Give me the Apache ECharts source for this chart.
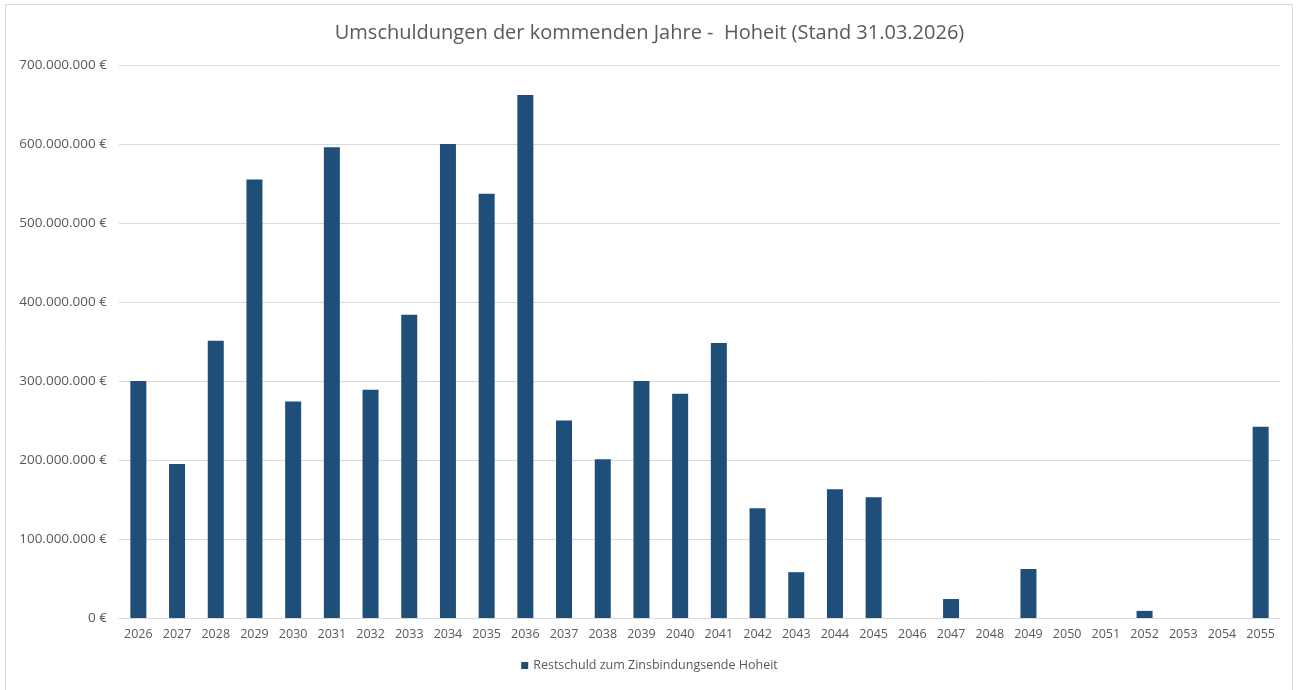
<!DOCTYPE html>
<html>
<head>
<meta charset="utf-8">
<script src="https://cdn.jsdelivr.net/npm/echarts@6/dist/echarts.min.js"></script>
<style>
  html, body { margin: 0; padding: 0; background: #fff; }
  #chart { width: 1299px; height: 690px; }
</style>
</head>
<body>
<div id="chart"></div>
<script>
// Jahre der Umschuldung
let years = [
  '2026', '2027', '2028', '2029', '2030', '2031', '2032', '2033', '2034', '2035',
  '2036', '2037', '2038', '2039', '2040', '2041', '2042', '2043', '2044', '2045',
  '2046', '2047', '2048', '2049', '2050', '2051', '2052', '2053', '2054', '2055',
];

// Restschuld in Euro
let restschuld = [
  300000000, 195000000, 351000000, 555000000, 274000000, 596000000, 289000000, 384000000, 600000000, 537000000,
  662000000, 250000000, 201000000, 300000000, 284000000, 348000000, 139000000, 58000000, 163000000, 153000000,
  0, 24000000, 0, 62000000, 0, 0, 9000000, 0, 0, 242000000,
];

let seriesName = 'Restschuld zum Zinsbindungsende Hoheit';
let title = 'Umschuldungen der kommenden Jahre -  Hoheit (Stand 31.03.2026)';

let fontFamily = '"Open Sans", "Noto Sans", sans-serif';

function euro(v) {
  let s = String(Math.round(v)).replace(/\B(?=(\d{3})+(?!\d))/g, '.');
  return s + ' €';
}

let chart = echarts.init(document.getElementById('chart'), null, { renderer: 'canvas' });

let options = {
  backgroundColor: '#ffffff',
  animation: false,
  textStyle: { fontFamily },
  title: {
    text: title,
    left: 'center',
    top: 18,
    textStyle: {
      fontFamily,
      fontSize: 20,
      fontWeight: 'normal',
      color: '#595959',
    },
  },
  graphic: [
    {
      type: 'rect',
      shape: { x: 5.5, y: 4.5, width: 1287, height: 700 },
      style: { fill: 'none', stroke: '#d9d9d9', lineWidth: 1 },
      silent: true,
    },
  ],
  legend: {
    bottom: 13,
    left: 'center',
    itemWidth: 7,
    itemHeight: 7,
    icon: 'rect',
    textStyle: { fontFamily, fontSize: 12.5, color: '#595959' },
    data: [seriesName],
  },
  grid: {
    left: 119,
    right: 19,
    top: 65,
    bottom: 72,
  },
  xAxis: {
    type: 'category',
    data: years,
    axisLine: { show: true, lineStyle: { color: '#d9d9d9' } },
    axisTick: { show: false },
    axisLabel: {
      fontFamily,
      fontSize: 12.5,
      color: '#595959',
      margin: 10,
      interval: 0,
    },
  },
  yAxis: {
    type: 'value',
    min: 0,
    max: 700000000,
    interval: 100000000,
    axisLine: { show: false },
    axisTick: { show: false },
    splitLine: { lineStyle: { color: '#d9d9d9', width: 1 } },
    axisLabel: {
      fontFamily,
      fontSize: 13.5,
      color: '#595959',
      margin: 12,
      formatter: euro,
    },
  },
  series: [
    {
      name: seriesName,
      type: 'bar',
      data: restschuld,
      barWidth: 16,
      itemStyle: { color: '#1f4e79' },
    },
  ],
};

chart.setOption(options);
</script>
</body>
</html>
